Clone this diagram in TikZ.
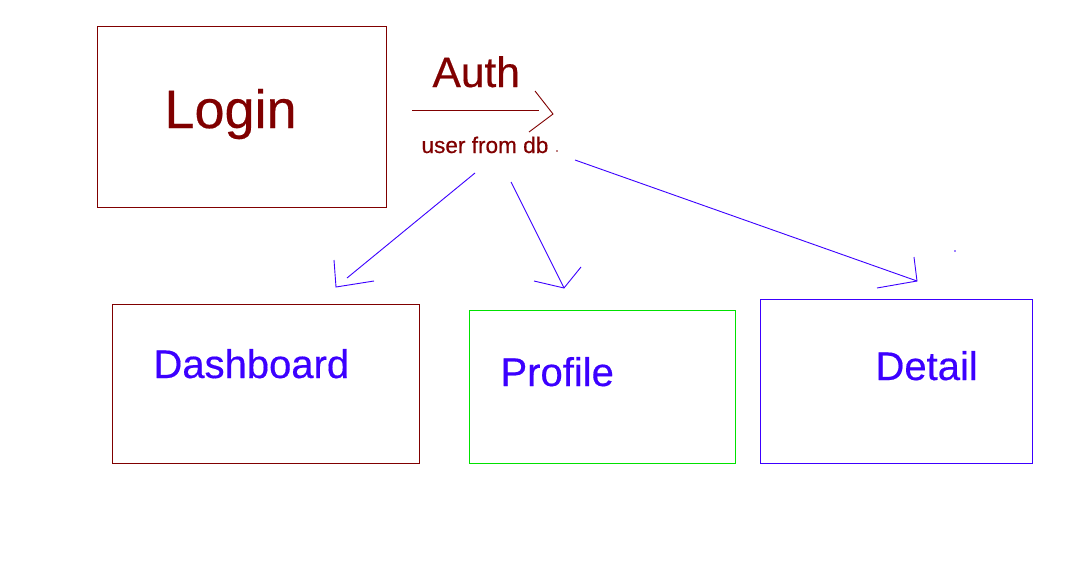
\documentclass[tikz,border=0pt]{standalone}
\usepackage{fontspec}
\setmainfont{Liberation Sans}[FakeBold=0.4]
\definecolor{dred}{RGB}{128,0,0}
\definecolor{vblue}{RGB}{60,0,255}
\definecolor{lgreen}{RGB}{0,225,0}
\begin{document}
\begin{tikzpicture}[x=1pt,y=-1pt,line width=1pt,
  boxnode/.style={draw,rectangle,anchor=north west,inner sep=0pt},
  lbl/.style={anchor=base west,inner sep=0pt},
  bigtext/.style={font=\fontsize{40}{40}\selectfont,text=vblue},
  blueline/.style={draw=vblue,line width=0.9pt},
  redline/.style={draw=dred,line width=0.9pt}]
\path[use as bounding box,fill=white] (0,0) rectangle (1070,563);
% boxes
\node[boxnode,draw=dred,minimum width=289pt,minimum height=181pt] (loginbox) at (97,26) {};
\node[boxnode,draw=dred,minimum width=307pt,minimum height=159pt] (dashbox) at (112,304) {};
\node[boxnode,draw=lgreen,minimum width=266pt,minimum height=153pt] (profbox) at (469,310) {};
\node[boxnode,draw=vblue,minimum width=272pt,minimum height=164pt] (detbox) at (760,299) {};
% texts
\node[lbl,font=\fontsize{54}{54}\selectfont,text=dred] (login) at (164,128) {Login};
\node[lbl,font=\fontsize{42.5}{42.5}\selectfont,text=dred] (auth) at (432,87) {Auth};
\node[lbl,font=\fontsize{22.6}{22.6}\selectfont,text=dred] (user) at (421,153) {user from db};
\node[lbl,bigtext] (dash) at (153,378) {Dashboard};
\node[lbl,bigtext] (prof) at (500,386) {Profile};
\node[lbl,bigtext] (det) at (875,380) {Detail};
% auth arrow
\coordinate (r0) at (412,110);
\coordinate (r1) at (539,110);
\coordinate (rt) at (553,114);
\coordinate (rh1) at (535,91);
\coordinate (rh2) at (529,132);
\draw[redline] (r0) -- (r1);
\draw[redline] (rh1) -- (rt) -- (rh2);
% blue arrows
\coordinate (b1s) at (475,173);
\coordinate (b1e) at (347,278);
\coordinate (b1h1) at (334,260);
\coordinate (b1t) at (336,287);
\coordinate (b1h2) at (374,281);
\draw[blueline] (b1s) -- (b1e);
\draw[blueline] (b1h1) -- (b1t) -- (b1h2);
\coordinate (b2s) at (511,182);
\coordinate (b2t) at (564,288);
\coordinate (b2h1) at (534,281);
\coordinate (b2h2) at (581,267);
\draw[blueline] (b2s) -- (b2t);
\draw[blueline] (b2h1) -- (b2t) -- (b2h2);
\coordinate (b3s) at (575,160);
\coordinate (b3t) at (917,281);
\coordinate (b3h1) at (914,257);
\coordinate (b3h2) at (877,288);
\draw[blueline] (b3s) -- (b3t);
\draw[blueline] (b3h1) -- (b3t) -- (b3h2);
% stray dots
\fill[dred] (557,151) circle (0.8);
\fill[vblue] (955,251) circle (0.8);
\end{tikzpicture}
\end{document}
